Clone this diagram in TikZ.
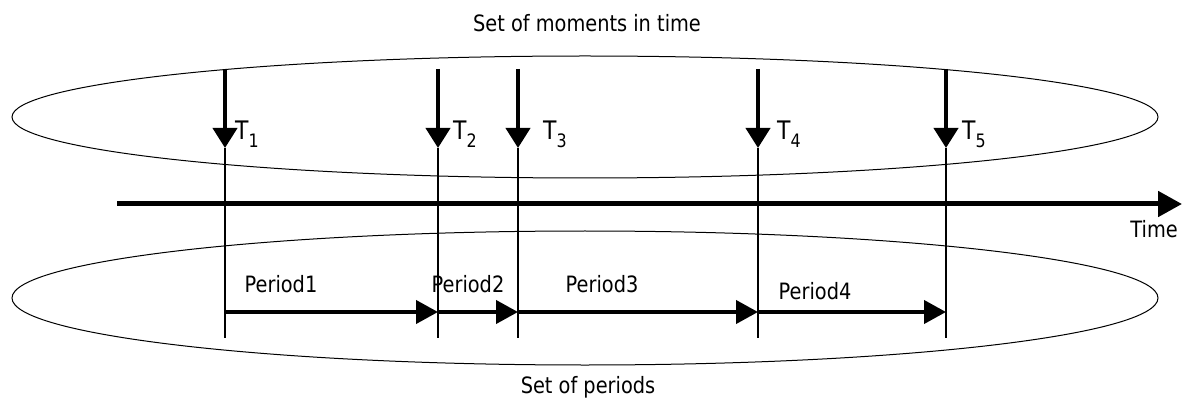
\documentclass[tikz,border=0pt]{standalone}
\usepackage{fontspec}
\setmainfont{DejaVu Sans}[FakeStretch=0.86]
\usetikzlibrary{arrows.meta,shapes.geometric}
\begin{document}
\begin{tikzpicture}[x=1pt,y=-1pt,
  setshape/.style={draw=black, line width=1pt, ellipse, inner sep=0pt},
  moment/.style={line width=4pt, -{Triangle[length=20pt,width=24pt]}},
  tickline/.style={line width=2pt},
  period/.style={line width=4pt, -{Triangle[length=22pt,width=23pt]}},
  timeaxis/.style={line width=5pt, -{Triangle[length=24pt,width=25pt]}},
  lbl/.style={inner sep=0pt, anchor=base, font=\fontsize{22.5}{27}\selectfont},
  tlbl/.style={inner sep=0pt, anchor=base west, font=\fontsize{25.5}{30}\selectfont}]
\useasboundingbox (0,0) rectangle (1182,403);
\node[setshape, minimum width=1146pt, minimum height=122pt] (moments) at (585,117) {};
\node[setshape, minimum width=1146pt, minimum height=134pt] (periods) at (585,298) {};
\node[lbl] (title1) at (587,32) {Set of moments in time};
\node[lbl] (title2) at (588,393) {Set of periods};
\coordinate (ts) at (117,204);
\coordinate (te) at (1182,204);
\draw[timeaxis] (ts) -- (te);
\node[lbl, anchor=base east] (timelbl) at (1178,237) {Time};
\foreach \n/\x/\dx in {1/225/10, 2/438/15, 3/518/25, 4/758/19, 5/946/16} {
  \coordinate (m\n top) at (\x,69);
  \coordinate (m\n tip) at (\x,148);
  \coordinate (m\n end) at (\x,338);
  \coordinate (p\n) at (\x,312);
  \draw[tickline] (m\n tip) -- (m\n end);
  \draw[moment] (m\n top) -- (m\n tip);
  \node[tlbl] (t\n) at (\x+\dx,140) {T\raisebox{-8pt}{\fontsize{18.5}{18}\selectfont \n}};
}
\draw[period] (p1) -- (p2);
\draw[period] (p2) -- (p3);
\draw[period] (p3) -- (p4);
\draw[period] (p4) -- (p5);
\node[lbl] (per1) at (281,292) {Period1};
\node[lbl] (per2) at (468,292) {Period2};
\node[lbl] (per3) at (602,292) {Period3};
\node[lbl] (per4) at (815,299) {Period4};
\end{tikzpicture}
\end{document}
